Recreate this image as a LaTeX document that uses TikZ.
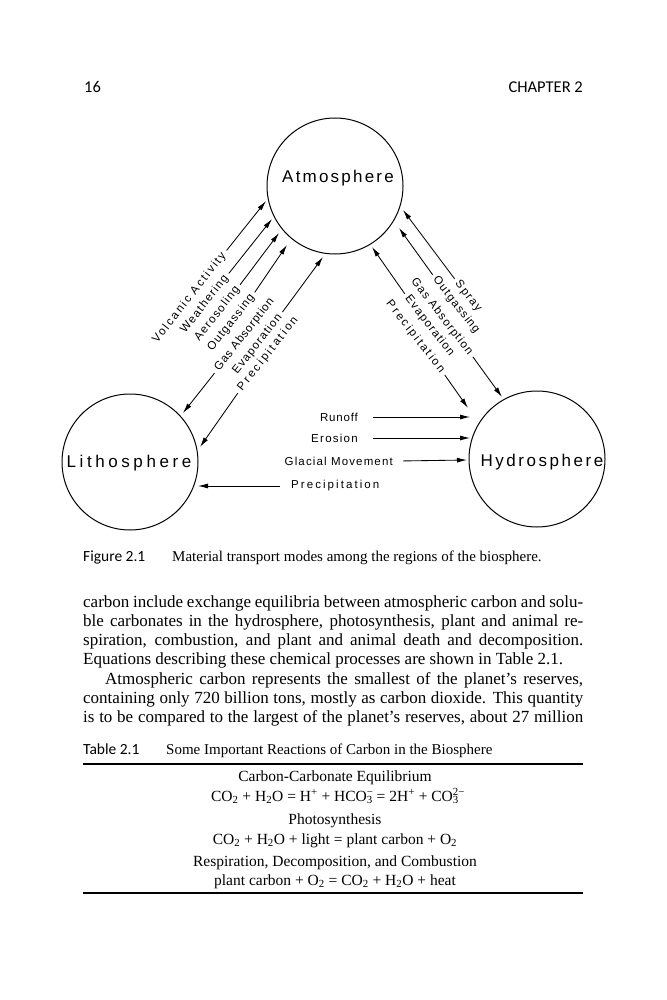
\documentclass[tikz,border=0pt]{standalone}
\usepackage{fontspec}
\setmainfont{Liberation Serif}
\newfontfamily\labfont{Liberation Sans}
\newfontfamily\headfont{Carlito}
\newcommand\ls[1]{\addfontfeature{LetterSpace=#1}}
\usetikzlibrary{arrows.meta,calc}
\newcommand\ssup[2]{\rlap{\textsuperscript{#2}}\textsubscript{#1}}
\tikzset{
  sphere/.style={circle, draw, line width=1pt, minimum size=136pt, inner sep=0pt},
  spheretxt/.style={font=\labfont\fontsize{17}{17}\selectfont, inner sep=0pt},
  flow/.style={line width=0.85pt, shorten <=4pt, -{Latex[length=10pt,width=5pt]}},
  dlab/.style={font=\labfont\fontsize{11.5}{11.5}\selectfont, inner sep=0pt},
  hlab/.style={font=\labfont\fontsize{11.5}{11.5}\selectfont, inner sep=0pt},
  bodyline/.style={anchor=base west, inner sep=0pt, font=\fontsize{17}{19}\selectfont},
  tabline/.style={anchor=base, inner sep=0pt, font=\fontsize{15.5}{19}\selectfont},
  capline/.style={anchor=base west, inner sep=0pt, font=\fontsize{15}{19}\selectfont},
  head/.style={inner sep=0pt, font=\headfont\fontsize{16.5}{16.5}\selectfont},
  rule/.style={line width=1.1pt}
}
\begin{document}
\begin{tikzpicture}[x=1pt,y=-1pt]
\useasboundingbox (0,0) rectangle (666,1000);
\fill[white] (0,0) rectangle (666,1000);

% header
\node[head, anchor=base west] (pg) at (84,93) {16};
\node[head, anchor=base east] (chap) at (583,93) {CHAPTER 2};

% spheres
\node[sphere] (atm) at (335,186) {};
\node[spheretxt] (atmT) at (338,178) {\ls{13}Atmosphere};
\node[sphere] (lit) at (130,462) {};
\node[spheretxt] (litT) at (129,463) {\ls{21}Lithosphere};
\node[sphere] (hyd) at (537,459) {};
\node[spheretxt] (hydT) at (542,462) {\ls{15}Hydrosphere};

% left side: lithosphere <-> atmosphere
\node[dlab, rotate=52, anchor=west] (lVA) at (155,342) {\ls{17}Volcanic Activity};
\node[dlab, rotate=52, anchor=west] (lWe) at (183,332) {\ls{11}Weathering};
\node[dlab, rotate=52, anchor=west] (lAe) at (197,340) {\ls{11}Aerosoling};
\node[dlab, rotate=52, anchor=west] (lOu) at (210,350) {\ls{10}Outgassing};
\node[dlab, rotate=52, anchor=west] (lGA) at (217,370) {\ls{7}Gas Absorption};
\node[dlab, rotate=52, anchor=west] (lEv) at (235,373) {\ls{10}Evaporation};
\node[dlab, rotate=52, anchor=west] (lPr) at (240,390) {\ls{20}Precipitation};
\coordinate (tVA) at (266,201);
\coordinate (tWe) at (272,219);
\coordinate (tAe) at (279,233);
\coordinate (tOu) at (287,245);
\coordinate (tEv) at (323,257);
\coordinate (tGA) at (183,413);
\coordinate (tPr) at (200,447);
\draw[flow] (lVA.east) -- (tVA);
\draw[flow] (lWe.east) -- (tWe);
\draw[flow] (lAe.east) -- (tAe);
\draw[flow] (lOu.east) -- (tOu);
\draw[flow] (lEv.east) -- (tEv);
\draw[flow] (lGA.west) -- (tGA);
\draw[flow] (lPr.west) -- (tPr);

% right side: atmosphere <-> hydrosphere
\node[dlab, rotate=-52, anchor=west] (rSp) at (457,282) {\ls{13}Spray};
\node[dlab, rotate=-52, anchor=west] (rOu) at (435,278) {\ls{10}Outgassing};
\node[dlab, rotate=-52, anchor=west] (rGA) at (413,280) {\ls{10}Gas Absorption};
\node[dlab, rotate=-52, anchor=west] (rEv) at (407,297) {\ls{10}Evaporation};
\node[dlab, rotate=-52, anchor=west] (rPr) at (388,302) {\ls{18}Precipitation};
\coordinate (uSp) at (403,210);
\coordinate (uOu) at (399,228);
\coordinate (uEv) at (372,247);
\coordinate (uGA) at (502,397);
\coordinate (uPr) at (468,408);
\draw[flow] (rSp.west) -- (uSp);
\draw[flow] (rOu.west) -- (uOu);
\draw[flow] (rEv.west) -- (uEv);
\draw[flow] (rGA.east) -- (uGA);
\draw[flow] (rPr.east) -- (uPr);

% horizontal: lithosphere <-> hydrosphere
\node[hlab, anchor=east] (hRu) at (358,417) {\ls{7}Runoff};
\node[hlab, anchor=east] (hEr) at (358,438) {\ls{11}Erosion};
\node[hlab, anchor=east] (hGl) at (393,461) {\ls{10}Glacial Movement};
\node[hlab, anchor=west] (hPr) at (291,486) {\ls{18}Precipitation};
\coordinate (vRu) at (470,417);
\coordinate (vEr) at (470,438);
\coordinate (vGl) at (467,460);
\coordinate (vPr) at (198,486);
\draw[flow] ([xshift=11pt]hRu.east) -- (vRu);
\draw[flow] ([xshift=11pt]hEr.east) -- (vEr);
\draw[flow] ([xshift=6pt]hGl.east) -- (vGl);
\draw[flow] ([xshift=-7pt]hPr.west) -- (vPr);

% figure caption
\node[head, anchor=base west, font=\headfont\fontsize{15.5}{15.5}\selectfont] (figc) at (83,561) {Figure 2.1};
\node[capline] (figt) at (172,561) {Material transport modes among the regions of the biosphere.};

% body text
\node[bodyline] (p1) at (83,607) {\makebox[500pt][s]{carbon include exchange equilibria between atmospheric carbon and solu-}};
\node[bodyline] (p2) at (83,626) {\makebox[500pt][s]{ble carbonates in the hydrosphere, photosynthesis, plant and animal re-}};
\node[bodyline] (p3) at (83,645) {\makebox[500pt][s]{spiration, combustion, and plant and animal death and decomposition.}};
\node[bodyline] (p4) at (83,664) {Equations describing these chemical processes are shown in Table 2.1.};
\node[bodyline] (p5) at (105,684) {\makebox[478pt][s]{Atmospheric carbon represents the smallest of the planet’s reserves,}};
\node[bodyline] (p6) at (83,703) {\makebox[500pt][s]{containing only 720 billion tons, mostly as carbon dioxide. This quantity}};
\node[bodyline] (p7) at (83,722) {\makebox[500pt][s]{is to be compared to the largest of the planet’s reserves, about 27 million}};

% table
\node[head, anchor=base west, font=\headfont\fontsize{15.5}{15.5}\selectfont] (tabc) at (83,754) {Table 2.1};
\node[capline] (tabt) at (166,754) {Some Important Reactions of Carbon in the Biosphere};
\draw[rule] (83,764) -- (583,764);
\node[tabline] (t1) at (335,781) {Carbon-Carbonate Equilibrium};
\node[tabline] (t2) at (335,801) {CO\textsubscript{2} + H\textsubscript{2}O = H\textsuperscript{+} + HCO\ssup{3}{−} = 2H\textsuperscript{+} + CO\ssup{3}{2−}};
\node[tabline] (t3) at (335,824) {Photosynthesis};
\node[tabline] (t4) at (335,844) {CO\textsubscript{2} + H\textsubscript{2}O + light = plant carbon + O\textsubscript{2}};
\node[tabline] (t5) at (335,866) {Respiration, Decomposition, and Combustion};
\node[tabline] (t6) at (335,885) {plant carbon + O\textsubscript{2} = CO\textsubscript{2} + H\textsubscript{2}O + heat};
\draw[rule] (83,893) -- (583,893);
\end{tikzpicture}
\end{document}
